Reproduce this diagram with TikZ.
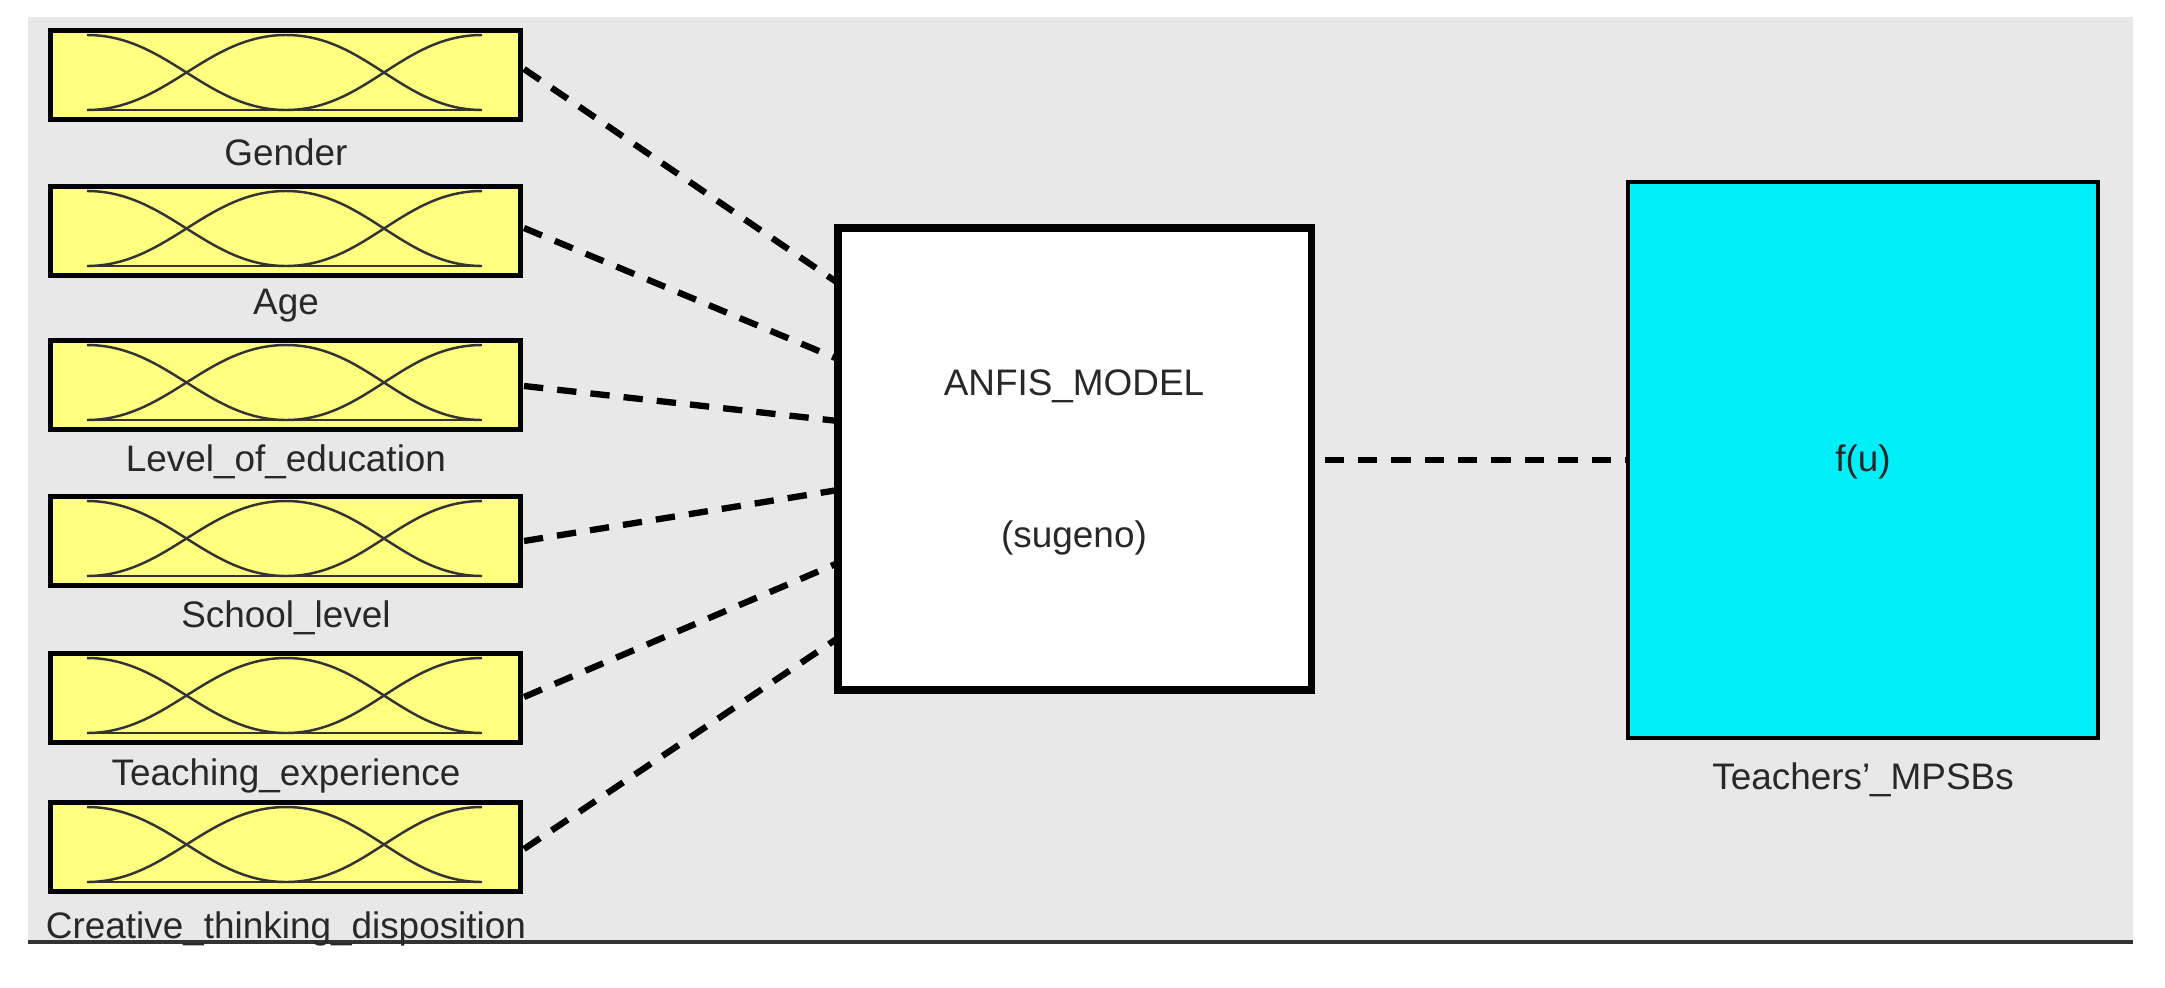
\documentclass[tikz,border=0pt]{standalone}
\usepackage{fontspec}
\setmainfont{Liberation Sans}
\begin{document}
\begin{tikzpicture}[
  mfbox/.style={draw=black, line width=1.3pt, fill={rgb,255:red,255;green,255;blue,128}, minimum width=4.7cm, minimum height=0.89cm, inner sep=0pt, anchor=north west},
  lbl/.style={text={rgb,255:red,40;green,40;blue,40}, font=\fontsize{10.5pt}{12pt}\selectfont, inner sep=0pt},
  conn/.style={line width=1.8pt, dash pattern=on 5.5pt off 4pt},
  mf/.style={line width=0.7pt, black!80}
]
\useasboundingbox (0,0) rectangle (21.65,-9.87);
\fill[gray!18] (0.28,-0.17) rectangle (21.33,-9.40);
\draw[line width=1.2pt, black!80] (0.28,-9.42) -- (21.33,-9.42);

\foreach \i/\y/\ly/\sy/\ey/\t in {1/0.28/1.52/0.69/2.83/Gender, 2/1.84/3.06/2.28/3.59/Age, 3/3.38/4.62/3.86/4.21/Level\_of\_education, 4/4.94/6.18/5.41/4.90/School\_level, 5/6.51/7.76/6.97/5.63/Teaching\_experience, 6/8.00/9.29/8.49/6.38/Creative\_thinking\_disposition}{
  \node[mfbox] (in\i) at (0.48,-\y) {};
  \begin{scope}[shift={(in\i.north west)}]
    \draw[mf] (0.39,-0.07) .. controls +(0.8,0) and +(-0.8,0) .. (2.38,-0.82);
    \draw[mf] (0.39,-0.82) .. controls +(0.8,0) and +(-0.8,0) .. (2.38,-0.07)
               .. controls +(0.8,0) and +(-0.8,0) .. (4.34,-0.82);
    \draw[mf] (2.38,-0.82) .. controls +(0.8,0) and +(-0.8,0) .. (4.34,-0.07);
    \draw[mf] (0.39,-0.82) -- (4.34,-0.82);
  \end{scope}
  \node[lbl] (lab\i) at (2.86,-\ly) {\t};
  \coordinate (s\i) at (5.24,-\sy);
  \coordinate (e\i) at (8.38,-\ey);
}

\node[draw=black, line width=2pt, fill=white, minimum width=4.73cm, minimum height=4.62cm, inner sep=0pt] (anfis) at (10.745,-4.59) {};
\node[lbl] (anfisT) at (10.74,-3.86) {ANFIS\_MODEL};
\node[lbl] (sug) at (10.74,-5.38) {(sugeno)};

\node[draw=black, line width=1.3pt, fill={rgb,255:red,0;green,240;blue,250}, minimum width=4.7cm, minimum height=5.56cm, inner sep=0pt] (out) at (18.63,-4.60) {};
\node[lbl] (fu) at (18.63,-4.62) {f(u)};
\node[lbl] (outl) at (18.63,-7.80) {Teachers'\_MPSBs};

\foreach \i in {1,...,6}{ \draw[conn] (s\i) -- (e\i); }
\draw[conn] (anfis.east |- out.west) ++(0.1,0) coordinate (ae) (ae) -- (out.west);
\end{tikzpicture}
\end{document}
